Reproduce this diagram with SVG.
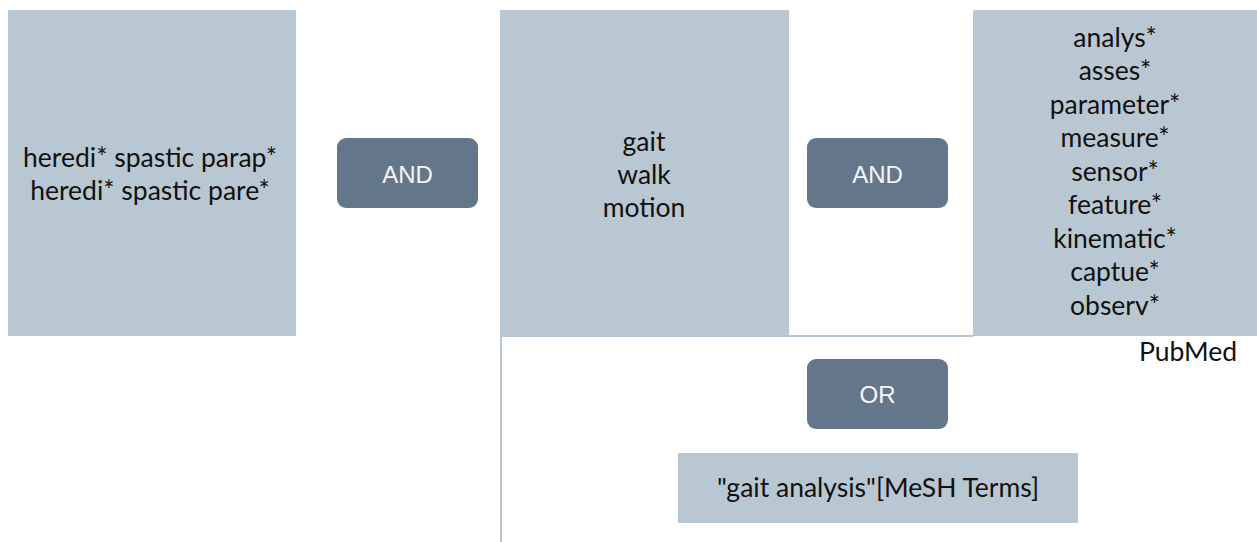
<svg xmlns="http://www.w3.org/2000/svg" width="1257" height="542" viewBox="0 0 1257 542">
<style>
.box{fill:#b9c7d3}
.btn{fill:#64778a}
.t{font-family:Lato,"Liberation Sans",sans-serif;font-size:26.5px;fill:#111;text-anchor:middle}
.bt{font-family:"Liberation Sans",Arial,sans-serif;font-size:24px;fill:#f4f6f8;text-anchor:middle}
.ln{stroke:#b9c7d3;stroke-width:2;fill:none}
</style>
<rect width="1257" height="542" fill="#fff"/>
<g id="connectors">
<path class="ln" d="M500 336 H973"/>
<path class="ln" d="M501 336 V542"/>
</g>
<g id="n-hsp">
<rect class="box" x="8" y="10" width="288" height="326"/>
<text class="t" x="150" y="167">heredi* spastic parap*</text>
<text class="t" x="150" y="200">heredi* spastic pare*</text>
</g>
<g id="n-and1">
<rect class="btn" x="337" y="138" width="141" height="70" rx="9"/>
<text class="bt" x="407.5" y="183">AND</text>
</g>
<g id="n-gait">
<rect class="box" x="500" y="10" width="289" height="326"/>
<text class="t" x="644" y="151">gait</text>
<text class="t" x="644" y="184">walk</text>
<text class="t" x="644" y="217">motion</text>
</g>
<g id="n-and2">
<rect class="btn" x="807" y="138" width="141" height="70" rx="9"/>
<text class="bt" x="877.5" y="183">AND</text>
</g>
<g id="n-terms">
<rect class="box" x="973" y="10" width="284" height="326"/>
<text class="t" x="1115" y="47">analys*</text>
<text class="t" x="1115" y="80">asses*</text>
<text class="t" x="1115" y="114">parameter*</text>
<text class="t" x="1115" y="147">measure*</text>
<text class="t" x="1115" y="181">sensor*</text>
<text class="t" x="1115" y="214">feature*</text>
<text class="t" x="1115" y="248">kinematic*</text>
<text class="t" x="1115" y="281">captue*</text>
<text class="t" x="1115" y="315">observ*</text>
</g>
<g id="n-pubmed">
<text class="t" x="1188" y="361">PubMed</text>
</g>
<g id="n-or">
<rect class="btn" x="807" y="359" width="141" height="70" rx="9"/>
<text class="bt" x="877.5" y="403">OR</text>
</g>
<g id="n-mesh">
<rect class="box" x="678" y="453" width="400" height="70"/>
<text class="t" x="878" y="497">"gait analysis"[MeSH Terms]</text>
</g>
</svg>
